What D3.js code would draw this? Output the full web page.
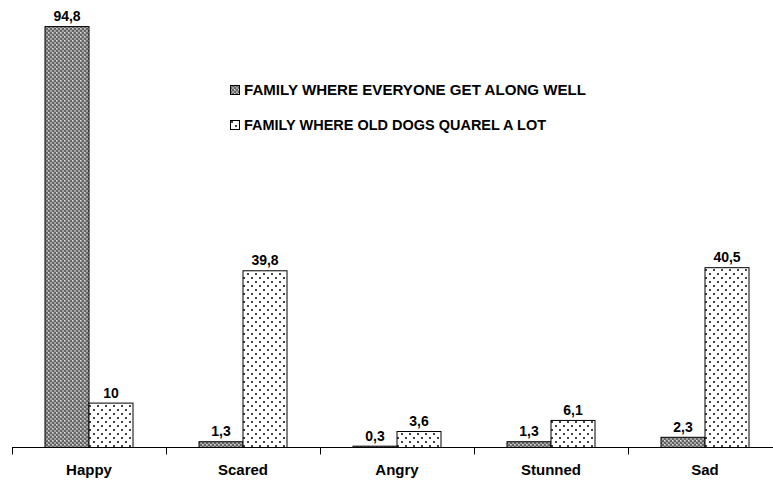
<!DOCTYPE html>
<html>
<head>
<meta charset="utf-8">
<script src="https://cdn.jsdelivr.net/npm/d3@7"></script>
<style>
  html, body { margin: 0; padding: 0; background: #fff; }
  svg { display: block; font-family: Arial, "Liberation Sans", sans-serif; }
</style>
</head>
<body>
<svg id="chart" width="773" height="480"></svg>
<script>
// Emotion reported by dogs, by family atmosphere (%)
const categories = ["Happy", "Scared", "Angry", "Stunned", "Sad"];
const seriesNames = [
  "FAMILY WHERE EVERYONE GET ALONG WELL",
  "FAMILY WHERE OLD DOGS QUAREL A LOT"
];
const getAlongWell = [94.8, 1.3, 0.3, 1.3, 2.3];
const quarrelALot = [10, 39.8, 3.6, 6.1, 40.5];
const valueLabels = [
  ["94,8", "1,3", "0,3", "1,3", "2,3"],
  ["10", "39,8", "3,6", "6,1", "40,5"]
];

const svg = d3.select("#chart");
const defs = svg.append("defs");

// Dense grey checker fill
const p1 = defs.append("pattern").attr("id", "fillChecker")
  .attr("patternUnits", "userSpaceOnUse").attr("width", 4).attr("height", 4);
p1.append("rect").attr("width", 4).attr("height", 4).attr("fill", "#666");
p1.append("rect").attr("x", 0).attr("y", 0).attr("width", 2).attr("height", 2).attr("fill", "#a4a4a4");
p1.append("rect").attr("x", 2).attr("y", 2).attr("width", 2).attr("height", 2).attr("fill", "#a4a4a4");
p1.append("rect").attr("x", 0).attr("y", 0).attr("width", 1).attr("height", 1).attr("fill", "#e0e0e0");

// Sparse dotted fill
const p2 = defs.append("pattern").attr("id", "fillDots")
  .attr("patternUnits", "userSpaceOnUse").attr("width", 8).attr("height", 8);
p2.append("rect").attr("width", 8).attr("height", 8).attr("fill", "#fff");
p2.append("rect").attr("x", 1).attr("y", 1).attr("width", 2).attr("height", 2).attr("fill", "#444");
p2.append("rect").attr("x", 5).attr("y", 5).attr("width", 2).attr("height", 2).attr("fill", "#444");

const fills = ["url(#fillChecker)", "url(#fillDots)"];

const x0 = d3.scaleBand().domain(categories).range([12, 782]).padding(0);
const x1 = d3.scaleBand().domain([0, 1]).range([0, x0.bandwidth()])
  .paddingInner(0).paddingOuter(0.75);
const y = d3.scaleLinear().domain([0, 100]).range([447.5, 3.5]);

const seriesValues = [getAlongWell, quarrelALot];

const groups = svg.append("g").selectAll("g")
  .data(categories)
  .join("g")
  .attr("transform", c => `translate(${x0(c)},0)`);

const cells = (c, i) => seriesValues.map((vals, s) => ({ s, v: vals[i], label: valueLabels[s][i] }));

groups.selectAll("rect")
  .data(cells)
  .join("rect")
  .attr("x", d => x1(d.s))
  .attr("y", d => y(d.v))
  .attr("width", x1.bandwidth())
  .attr("height", d => y(0) - y(d.v))
  .attr("fill", d => fills[d.s])
  .attr("stroke", "#000")
  .attr("stroke-width", 1);

groups.selectAll("text.val")
  .data(cells)
  .join("text")
  .attr("class", "val")
  .attr("x", d => x1(d.s) + x1.bandwidth() / 2)
  .attr("y", d => y(d.v) - 5.5)
  .attr("text-anchor", "middle")
  .attr("font-size", 14)
  .attr("font-weight", "bold")
  .attr("fill", "#000")
  .text(d => d.label);

// Category axis
const axis = svg.append("g");
axis.append("line")
  .attr("x1", 12).attr("x2", 773)
  .attr("y1", y(0)).attr("y2", y(0))
  .attr("stroke", "#000").attr("stroke-width", 1);
axis.selectAll("line.tick")
  .data(categories)
  .join("line")
  .attr("class", "tick")
  .attr("x1", c => Math.round(x0(c)) + 0.5).attr("x2", c => Math.round(x0(c)) + 0.5)
  .attr("y1", y(0)).attr("y2", y(0) + 7)
  .attr("stroke", "#000");
axis.selectAll("text")
  .data(categories)
  .join("text")
  .attr("x", c => x0(c) + x0.bandwidth() / 2)
  .attr("y", 475)
  .attr("text-anchor", "middle")
  .attr("font-size", 15)
  .attr("font-weight", "bold")
  .text(c => c);

// Legend
const legendWidths = [342, 302];
const legend = svg.append("g").attr("transform", "translate(230,85)");
const items = legend.selectAll("g")
  .data(seriesNames)
  .join("g")
  .attr("transform", (d, i) => `translate(0,${i * 35})`);
items.append("rect")
  .attr("x", 0.5).attr("y", 0.5)
  .attr("width", 9).attr("height", 9)
  .attr("fill", (d, i) => fills[i])
  .attr("stroke", "#000");
items.append("text")
  .attr("x", 14).attr("y", 10)
  .attr("font-size", 14)
  .attr("font-weight", "bold")
  .attr("textLength", (d, i) => legendWidths[i])
  .attr("lengthAdjust", "spacingAndGlyphs")
  .text(d => d);
</script>
</body>
</html>
